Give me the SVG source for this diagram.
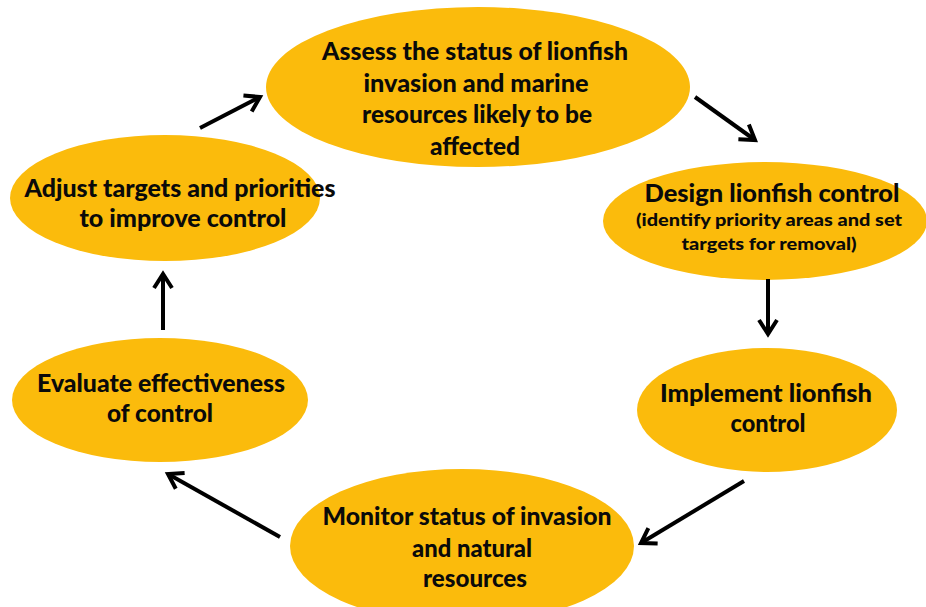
<svg xmlns="http://www.w3.org/2000/svg" width="926" height="607" viewBox="0 0 926 607">
<defs>
<style>
.node ellipse{fill:#FBBB0C;}
.t{font-family:Lato,"Open Sans","Liberation Sans",sans-serif;font-weight:900;fill:#0a0a0a;text-anchor:middle;font-size:24px;}
.s{font-size:16.5px;}
.conn line{stroke:#000;stroke-width:4;marker-end:url(#ah);}
</style>
<marker id="ah" markerUnits="userSpaceOnUse" viewBox="-20 -12 24 24" refX="0" refY="0" markerWidth="24" markerHeight="24" orient="auto">
<path d="M-14,-9 L0,0 L-14,9" fill="none" stroke="#000" stroke-width="4" stroke-linejoin="miter"/>
</marker>
</defs>
<rect width="926" height="607" fill="#fff"/>
<g id="assess" class="node">
<ellipse cx="478" cy="87" rx="212" ry="80"/>
<text class="t" x="475" y="60" textLength="306" lengthAdjust="spacingAndGlyphs">Assess the status of lionfish</text>
<text class="t" x="476" y="92" textLength="225" lengthAdjust="spacingAndGlyphs">invasion and marine</text>
<text class="t" x="477" y="123" textLength="230" lengthAdjust="spacingAndGlyphs">resources likely to be</text>
<text class="t" x="475" y="155" textLength="90" lengthAdjust="spacingAndGlyphs">affected</text>
</g>
<g id="design" class="node">
<ellipse cx="765" cy="221" rx="162" ry="59"/>
<text class="t" x="772" y="202" textLength="255" lengthAdjust="spacingAndGlyphs">Design lionfish control</text>
<text class="t s" x="769" y="226" textLength="266" lengthAdjust="spacingAndGlyphs">(identify priority areas and set</text>
<text class="t s" x="769" y="250" textLength="175" lengthAdjust="spacingAndGlyphs">targets for removal)</text>
</g>
<g id="implement" class="node">
<ellipse cx="767" cy="410" rx="130" ry="62"/>
<text class="t" x="766" y="402" textLength="212" lengthAdjust="spacingAndGlyphs">Implement lionfish</text>
<text class="t" x="768" y="432" textLength="75" lengthAdjust="spacingAndGlyphs">control</text>
</g>
<g id="monitor" class="node">
<ellipse cx="462" cy="546" rx="172" ry="77"/>
<text class="t" x="467" y="525" textLength="289" lengthAdjust="spacingAndGlyphs">Monitor status of invasion</text>
<text class="t" x="472" y="557" textLength="120" lengthAdjust="spacingAndGlyphs">and natural</text>
<text class="t" x="475" y="587" textLength="104" lengthAdjust="spacingAndGlyphs">resources</text>
</g>
<g id="evaluate" class="node">
<ellipse cx="160" cy="400" rx="148" ry="62"/>
<text class="t" x="161" y="392" textLength="248" lengthAdjust="spacingAndGlyphs">Evaluate effectiveness</text>
<text class="t" x="160" y="422" textLength="106" lengthAdjust="spacingAndGlyphs">of control</text>
</g>
<g id="adjust" class="node">
<ellipse cx="165" cy="198" rx="155" ry="63"/>
<text class="t" x="180" y="197" textLength="311" lengthAdjust="spacingAndGlyphs">Adjust targets and priorities</text>
<text class="t" x="183" y="227" textLength="207" lengthAdjust="spacingAndGlyphs">to improve control</text>
</g>
<g id="connectors" class="conn">
<line x1="200" y1="128" x2="260" y2="97"/>
<line x1="695" y1="97" x2="755" y2="140"/>
<line x1="768" y1="279" x2="768" y2="334"/>
<line x1="744" y1="481" x2="641" y2="543"/>
<line x1="280" y1="537" x2="168" y2="474"/>
<line x1="163" y1="330" x2="163" y2="274"/>
</g>
</svg>
